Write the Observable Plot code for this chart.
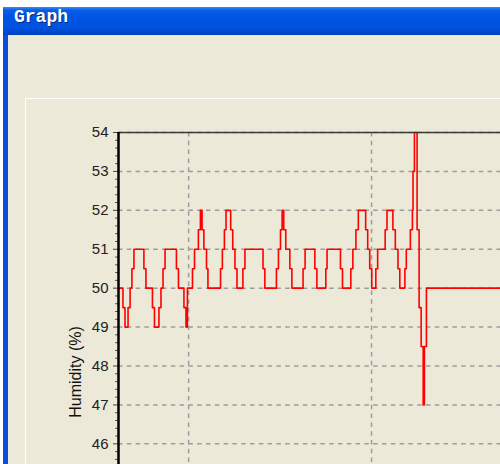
<!DOCTYPE html>
<html>
<head>
<meta charset="utf-8">
<script src="https://cdn.jsdelivr.net/npm/d3@7"></script>
<script src="https://cdn.jsdelivr.net/npm/@observablehq/plot@0.6"></script>
<style>
  html, body { margin: 0; padding: 0; width: 500px; height: 464px; overflow: hidden; background: #ffffff; }
  #frame { position: absolute; left: 3px; top: 7px; width: 520px; height: 480px; background: #ECE9D8; }
  #leftborder { position: absolute; left: 3px; top: 35px; width: 5px; height: 440px; background: #0a4fdc; }
  #titlebar { position: absolute; left: 3px; top: 7px; width: 520px; height: 28px;
    background: linear-gradient(to bottom, #3d8af7 0px, #0a5fe8 3px, #0055e5 8px, #0052e0 20px, #0046cc 26px, #003fbf 28px); }
  #title { position: absolute; left: 14px; top: 7px; font-family: "Liberation Mono", "DejaVu Sans Mono", monospace;
    font-weight: bold; font-size: 18px; color: #ffffff; text-shadow: 1px 1px 0 #0b2a80; line-height: 20px; }
  #panel { position: absolute; left: 25px; top: 98px; width: 490px; height: 380px;
    border-left: 1px solid #ffffff; border-top: 1px solid #ffffff; }
  #chart { position: absolute; left: 0; top: 0; width: 600px; height: 464px; overflow: hidden; }
</style>
</head>
<body>
<div id="frame"></div>
<div id="titlebar"></div>
<div id="title">Graph</div>
<div id="leftborder"></div>
<div id="panel"></div>
<div id="chart"></div>
<script>
// Sample time (change points) and humidity (%) values, drawn as a step line
const times = [0, 2.2, 3.2, 4.7, 5.7, 6.6, 7.6, 12.5, 13.5, 16.7, 17.7, 19.9, 20.9, 21.9, 22.9,
  28.5, 29.5, 32.2, 33.2, 33.9, 36.4, 37.4, 39.3, 40.3, 41.1, 42.0, 43.3, 44.0,
  50.2, 51.1, 52.1, 52.9, 55.2, 56.2, 57.3, 58.3, 61.2, 62.2, 71.1, 72.0,
  77.7, 78.7, 79.7, 80.5, 81.3, 82.3, 84.3, 85.3, 90.8, 91.8, 96.6, 97.6,
  102.0, 102.6, 109.2, 110.2, 114.3, 115.3, 116.8, 118.0, 121.6, 122.6, 123.6, 124.6,
  126.6, 127.5, 131.2, 132.1, 135.0, 136.2, 137.5, 138.4, 140.9, 141.6, 143.6, 144.6,
  144.9, 145.6, 146.9, 147.9, 148.9, 149.9, 150.5, 151.5, 215];
const humidity = [50, 49.5, 49, 49.5, 50, 50.5, 51, 50.5, 50, 49.5, 49, 49.5, 50, 50.5, 51,
  50.5, 50, 49.5, 49, 50, 50.5, 51, 51.5, 52, 51.5, 51, 50.5, 50,
  50.5, 51, 51.5, 52, 51.5, 51, 50.5, 50, 50.5, 51, 50.5, 50,
  50.5, 51, 51.5, 52, 51.5, 51, 50.5, 50, 50.5, 51, 50.5, 50,
  50.5, 51, 50.5, 50, 50.5, 51, 51.5, 52, 51.5, 51, 50.5, 50,
  50.5, 51, 51.5, 52, 51.5, 51, 50.5, 50, 50.5, 51, 51.5, 52,
  53, 54, 51.5, 49.5, 48.5, 47, 48.5, 50, 50];

// Visible tick labels (the chart continues below the window edge)
const yTicks = [46, 47, 48, 49, 50, 51, 52, 53, 54];
const yGridExtra = [45];
const xGridTicks = [34.5, 124.5];
const yLabel = "Humidity (%)";

const data = times.map((t, i) => ({t, h: humidity[i]}));
const minorTicks = [45, ...yTicks.slice(0, -1)].flatMap(v => [0.2, 0.4, 0.6, 0.8].map(f => +(v + f).toFixed(1)));

const gridStyle = {stroke: "#9c9c9c", strokeOpacity: 1, strokeWidth: 1.5, strokeDasharray: "4.5,4.3"};

const chart = Plot.plot({
  width: 600,
  height: 620,
  marginLeft: 118,
  marginTop: 132,
  marginRight: 45,
  marginBottom: 21,
  style: {background: "transparent", maxWidth: "none", fontFamily: "'Liberation Sans', Arial, sans-serif", fontSize: "15px", color: "#222"},
  x: {domain: [0, 215], axis: null},
  y: {domain: [42, 54], axis: null},
  marks: [
    Plot.gridY([...yGridExtra, ...yTicks], gridStyle),
    Plot.gridX(xGridTicks, gridStyle),
    Plot.axisY(minorTicks, {tickSize: 3, tickFormat: () => "", label: null, stroke: "#555"}),
    Plot.axisY(yTicks, {tickSize: 5, tickPadding: 5, tickFormat: d => String(d), label: null, stroke: "#444", fill: "#222"}),
    Plot.line(data, {x: "t", y: "h", curve: "step-after", stroke: "#ff0000", strokeWidth: 1.6}),
    Plot.ruleY([54], {stroke: "#3a3a3a", strokeWidth: 1.5}),
    Plot.ruleX([0], {stroke: "#000", strokeWidth: 2.5}),
    Plot.text([yLabel], {frameAnchor: "left", text: d => d, rotate: -90, textAnchor: "middle", dx: -43, dy: 6, fontSize: 16, fill: "#111"})
  ]
});
document.getElementById("chart").appendChild(chart);
</script>
</body>
</html>
